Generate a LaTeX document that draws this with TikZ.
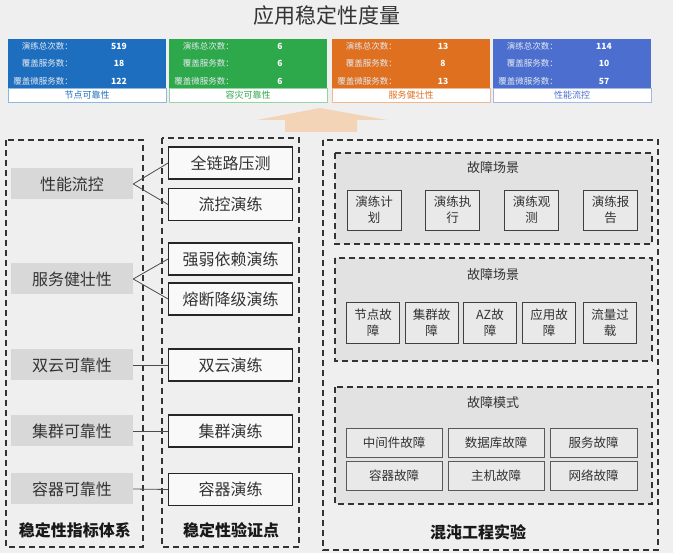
\documentclass[tikz,border=0pt]{standalone}
\usepackage{fontspec}
\setmainfont{Noto Sans CJK SC}
\definecolor{bg}{HTML}{EFEFEF}
\definecolor{pblue}{HTML}{1E6EBF}
\definecolor{pgreen}{HTML}{2DA84B}
\definecolor{porange}{HTML}{DE7020}
\definecolor{pslate}{HTML}{4B6ECF}
\definecolor{arrowc}{HTML}{F3D4B6}
\definecolor{lgrey}{HTML}{D8D8D8}
\definecolor{innerg}{HTML}{E2E2E2}
\definecolor{cellg}{HTML}{E9E9E9}
\definecolor{txt}{HTML}{333333}
\definecolor{mtxt}{HTML}{E4E9EF}
\tikzset{
  mlabel/.style={inner sep=0pt, text=mtxt, font=\fontsize{8.5}{10}\selectfont},
  mval/.style={inner sep=0pt, text=white, font=\fontsize{8.5}{10}\selectfont\bfseries},
  mband/.style={inner sep=0pt, font=\fontsize{9}{11}\selectfont},
  dashbox/.style={draw=txt, line width=1.2pt, dash pattern=on 6pt off 4pt},
  indexbox/.style={fill=lgrey, text=txt, minimum width=122pt, minimum height=31pt, inner sep=0pt, font=\fontsize{16}{19}\selectfont},
  verifybox/.style={draw=black!85, line width=1.3pt, fill=white!60!bg, text=txt, minimum width=123.5pt, minimum height=32pt, inner sep=0pt, font=\fontsize{16}{19}\selectfont},
  stagebox/.style={draw=black!75, line width=0.9pt, fill=cellg, text=txt, minimum width=54pt, minimum height=40pt, inner sep=0pt, align=center, font=\fontsize{12.5}{16}\selectfont},
  modebox/.style={draw=black!65, line width=0.8pt, fill=cellg, text=txt, minimum height=29pt, inner sep=0pt, font=\fontsize{12.5}{15}\selectfont},
  grouptitle/.style={inner sep=0pt, text=txt, font=\fontsize{13}{15}\selectfont},
  coltitle/.style={inner sep=0pt, text=black!90, font=\fontsize{16}{19}\selectfont\bfseries},
  link/.style={draw=black!70, line width=0.8pt}
}
\newcommand{\metricpanel}[7]{%
  \fill[#2] (#1,39) rectangle ++(158,49);
  \draw[#2!50, line width=0.8pt, fill=white] (#1,88) rectangle ++(158,14);
  \node[mlabel, anchor=east] (#7la) at (#1+65,46) {演练总次数：};
  \node[mlabel, anchor=east] (#7lb) at (#1+65,63.5) {覆盖服务数：};
  \node[mlabel, anchor=east] (#7lc) at (#1+65,81) {覆盖微服务数：};
  \node[mval] (#7va) at (#1+111,46) {#3};
  \node[mval] (#7vb) at (#1+111,63.5) {#4};
  \node[mval] (#7vc) at (#1+111,81) {#5};
  \node[mband, text=#2] (#7band) at (#1+79,95) {#6};
}
\begin{document}
\begin{tikzpicture}[x=1pt,y=-1pt]
\useasboundingbox (0,0) rectangle (673,553);
\fill[bg] (0,0) rectangle (673,553);

% title
\node[inner sep=0pt, text=txt, font=\fontsize{21}{24}\selectfont] (title) at (327,16) {应用稳定性度量};

% metric panels
\metricpanel{8}{pblue}{519}{18}{122}{节点可靠性}{pa}
\metricpanel{169}{pgreen}{6}{6}{6}{容灾可靠性}{pb}
\metricpanel{332}{porange}{13}{8}{13}{服务健壮性}{pc}
\metricpanel{493}{pslate}{114}{10}{57}{性能流控}{pd}

% up arrow
\fill[arrowc] (285,132) -- (285,120) -- (257,120) -- (320,108) -- (387,120) -- (357,120) -- (357,132) -- cycle;

% outer dashed boxes
\draw[dashbox] (6,140) rectangle (143,547);
\draw[dashbox] (162,138) rectangle (299,547);
\draw[dashbox] (323,140) rectangle (658,550);

% left column
\node[indexbox] (perf) at (72,184) {性能流控};
\node[indexbox] (robust) at (72,279) {服务健壮性};
\node[indexbox] (dual) at (72,365) {双云可靠性};
\node[indexbox] (clus) at (72,431) {集群可靠性};
\node[indexbox] (cont) at (72,489) {容器可靠性};

% middle column
\node[verifybox] (press) at (230.5,163) {全链路压测};
\node[verifybox] (flow) at (230.5,204.5) {流控演练};
\node[verifybox] (dep) at (230.5,259) {强弱依赖演练};
\node[verifybox] (fuse) at (230.5,299) {熔断降级演练};
\node[verifybox] (dualx) at (230.5,365) {双云演练};
\node[verifybox] (clusx) at (230.5,431) {集群演练};
\node[verifybox] (contx) at (230.5,489.5) {容器演练};

% connectors
\draw[link] (perf.east) -- (press.west);
\draw[link] (perf.east) -- (flow.west);
\draw[link] (robust.east) -- (dep.west);
\draw[link] (robust.east) -- (fuse.west);
\draw[link] (dual.east) -- (dualx.west);
\draw[link] (clus.east) -- (clusx.west);
\draw[link] (cont.east) -- (contx.west);

% column titles
\node[coltitle] (t1) at (75,530) {稳定性指标体系};
\node[coltitle] (t2) at (231,530) {稳定性验证点};
\node[coltitle] (t3) at (478,532) {混沌工程实验};

% right: group 1
\draw[dashbox, fill=innerg] (335,153) rectangle (652,244);
\node[grouptitle] (g1) at (493,168) {故障场景};
\node[stagebox] (s1) at (374,210) {演练计\\划};
\node[stagebox] (s2) at (452.5,210) {演练执\\行};
\node[stagebox] (s3) at (531.5,210) {演练观\\测};
\node[stagebox] (s4) at (610.5,210) {演练报\\告};

% right: group 2
\draw[dashbox, fill=innerg] (335,258) rectangle (652,361);
\node[grouptitle] (g2) at (493,275) {故障场景};
\node[stagebox, minimum width=53pt, minimum height=41pt] (f1) at (373,322.5) {节点故\\障};
\node[stagebox, minimum width=53pt, minimum height=41pt] (f2) at (431.5,322.5) {集群故\\障};
\node[stagebox, minimum width=53pt, minimum height=41pt] (f3) at (490,322.5) {AZ故\\障};
\node[stagebox, minimum width=53pt, minimum height=41pt] (f4) at (549,322.5) {应用故\\障};
\node[stagebox, minimum width=53pt, minimum height=41pt] (f5) at (610,322.5) {流量过\\载};

% right: group 3
\draw[dashbox, fill=innerg] (335,387) rectangle (652,504);
\node[grouptitle] (g3) at (493,403) {故障模式};
\node[modebox, minimum width=96pt] (m1) at (394,442.5) {中间件故障};
\node[modebox, minimum width=96pt] (m2) at (496,442.5) {数据库故障};
\node[modebox, minimum width=87pt] (m3) at (593.5,442.5) {服务故障};
\node[modebox, minimum width=96pt] (m4) at (394,476) {容器故障};
\node[modebox, minimum width=96pt] (m5) at (496,476) {主机故障};
\node[modebox, minimum width=87pt] (m6) at (593.5,476) {网络故障};
\end{tikzpicture}
\end{document}
